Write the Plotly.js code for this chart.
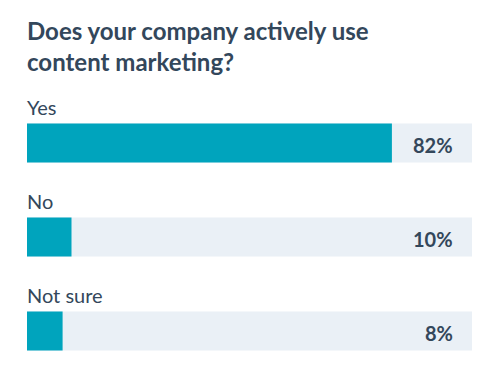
<!DOCTYPE html>
<html><head><meta charset="utf-8">
<script src="https://cdn.plot.ly/plotly-3.0.1.min.js"></script>
<style>html,body{margin:0;padding:0;background:#fff}#chart{width:497px;height:378px}</style>
</head><body><div id="chart"></div>
<script>
const categories = ["Yes", "No", "Not sure"];
const values = [82, 10, 8];
const valueLabels = ["82%", "10%", "8%"];
const fullScale = [100, 100, 100];

const textColor = "#33475b";
const font = "Lato, 'Open Sans', sans-serif";

const traces = [
  {type: "bar", orientation: "h", y: categories, x: fullScale, width: 0.415,
   marker: {color: "#eaf0f6"}, hoverinfo: "skip", showlegend: false},
  {type: "bar", orientation: "h", y: categories, x: values, width: 0.415,
   marker: {color: "#00a4bd"}, hoverinfo: "skip", showlegend: false}
];

const annotations = [];
categories.forEach((c, i) => {
  annotations.push({x: 0, y: c, xref: "x", yref: "y", text: c, showarrow: false,
    xanchor: "left", yanchor: "middle", yshift: 36, xshift: -2,
    font: {family: font, size: 20, color: textColor}});
  annotations.push({x: 100, y: c, xref: "x", yref: "y", text: "<b>" + valueLabels[i] + "</b>", showarrow: false,
    xanchor: "right", yanchor: "middle", xshift: -17, yshift: -2,
    font: {family: font, size: 20, color: textColor}});
});

annotations.push({x: 0, y: 1, xref: "paper", yref: "paper", xanchor: "left", yanchor: "top",
  xshift: -2, yshift: 82, showarrow: false, align: "left",
  text: "<b>Does your company actively use<br>content marketing?</b>",
  font: {family: font, size: 24, color: textColor}});

const layout = {
  width: 497, height: 378,
  margin: {l: 27, r: 25, t: 96, b: 0, pad: 0},
  paper_bgcolor: "#fff", plot_bgcolor: "#fff",
  barmode: "overlay",
  xaxis: {range: [0, 100], visible: false, fixedrange: true},
  yaxis: {range: [2.5, -0.5], type: "category", visible: false, fixedrange: true},
  annotations: annotations
};

Plotly.newPlot("chart", traces, layout, {displayModeBar: false, staticPlot: true});
</script></body></html>
